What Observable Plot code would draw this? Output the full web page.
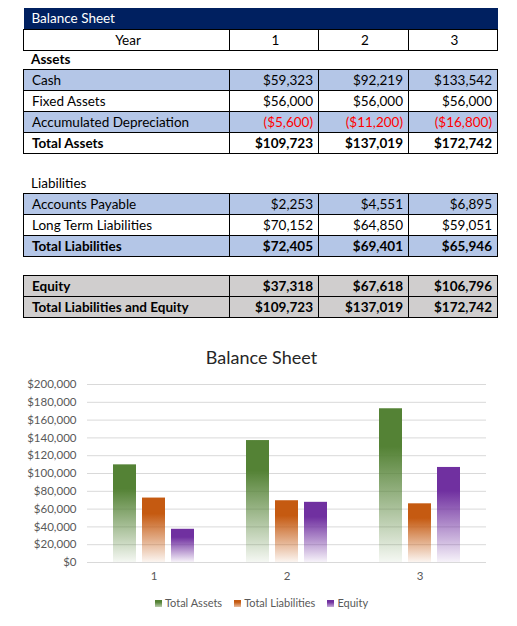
<!DOCTYPE html>
<html>
<head>
<meta charset="utf-8">
<script src="https://cdn.jsdelivr.net/npm/d3@7"></script>
<script src="https://cdn.jsdelivr.net/npm/@observablehq/plot@0.6"></script>
<style>
  body { margin: 0; width: 517px; height: 626px; position: relative; background: #fff; font-family: Lato, sans-serif; }
  table.sheet { position: absolute; left: 23px; width: 474px; border-collapse: collapse; table-layout: fixed; font-size: 13.5px; color: #000; }
  table.sheet td { border: 1px solid #000; padding: 0 5px 0 8px; white-space: nowrap; overflow: hidden; }
  table.sheet tr { height: 21px; }
  table.sheet td.num { text-align: right; }
  .label { position: absolute; left: 31px; font-size: 13.5px; }
  #chartTitle { position: absolute; top: 346px; left: 0; width: 523px; text-align: center; font-size: 18px; color: #262626; }
  #chart { position: absolute; top: 372px; left: 0; }
  #legend { position: absolute; top: 596px; left: 0; width: 523px; text-align: center; font-size: 11px; color: #595959; }
  #legend span.item { margin: 0 6px; }
  #legend i { display: inline-block; width: 7px; height: 7px; margin-right: 3px; }
</style>
</head>
<body>
<div id="sheet"></div>
<div class="label" style="top:51px;font-weight:bold">Assets</div>
<div class="label" style="top:175px">Liabilities</div>
<div id="chartTitle">Balance Sheet</div>
<div id="chart"></div>
<div id="legend"></div>
<script>
const years = ["1", "2", "3"];
const cash = [59323, 92219, 133542];
const fixedAssets = [56000, 56000, 56000];
const accumDepreciation = [-5600, -11200, -16800];
const totalAssets = [109723, 137019, 172742];
const accountsPayable = [2253, 4551, 6895];
const longTermLiabilities = [70152, 64850, 59051];
const totalLiabilities = [72405, 69401, 65946];
const equity = [37318, 67618, 106796];
const totalLiabEquity = [109723, 137019, 172742];

const series = ["Total Assets", "Total Liabilities", "Equity"];
const colors = ["#548235", "#C55A11", "#7030A0"];

const money = v => v < 0 ? "(" + d3.format("$,")(-v) + ")" : d3.format("$,")(v);

const blue = "#B4C6E7", grey = "#D0CECE";

function table(top, rows) {
  const t = d3.select("#sheet").append("table").attr("class", "sheet").style("top", top + "px");
  const cg = t.append("colgroup");
  [206, 89, 90, 89].forEach(w => cg.append("col").style("width", w + "px"));
  for (const r of rows) {
    const tr = t.append("tr").style("background", r.bg || "#fff").style("font-weight", r.bold ? "bold" : null);
    if (r.title) {
      tr.append("td").attr("colspan", 4).text(r.title)
        .style("border", "none").style("color", "#fff").style("background", "#002060");
      continue;
    }
    tr.append("td").text(r.label).style("text-align", r.center ? "center" : null);
    r.values.forEach(v => tr.append("td")
      .attr("class", r.center ? null : "num")
      .style("text-align", r.center ? "center" : null)
      .style("color", typeof v === "number" && v < 0 ? "#FF0000" : null)
      .text(typeof v === "number" ? money(v) : v));
  }
}

table(8, [
  {title: "Balance Sheet"},
  {label: "Year", values: years, center: true}
]);
table(69, [
  {label: "Cash", values: cash, bg: blue},
  {label: "Fixed Assets", values: fixedAssets},
  {label: "Accumulated Depreciation", values: accumDepreciation, bg: blue},
  {label: "Total Assets", values: totalAssets, bold: true}
]);
table(193, [
  {label: "Accounts Payable", values: accountsPayable, bg: blue},
  {label: "Long Term Liabilities", values: longTermLiabilities},
  {label: "Total Liabilities", values: totalLiabilities, bg: blue, bold: true}
]);
table(275, [
  {label: "Equity", values: equity, bg: grey, bold: true},
  {label: "Total Liabilities and Equity", values: totalLiabEquity, bg: grey, bold: true}
]);

// chart data
const chartValues = [totalAssets, totalLiabilities, equity];
const rows = years.flatMap((y, i) => series.map((s, j) => ({year: y, series: s, value: chartValues[j][i]})));

const chart = Plot.plot({
  width: 517,
  height: 218,
  marginTop: 12,
  marginBottom: 28,
  marginLeft: 86,
  marginRight: 30,
  style: {fontFamily: "Lato, sans-serif", fontSize: "11.5px", color: "#595959"},
  fx: {padding: 0, axis: "bottom", label: null, tickSize: 0, tickPadding: 9},
  x: {domain: series, axis: null, paddingInner: 0.22, paddingOuter: 0.876},
  y: {domain: [0, 200000], ticks: 10, tickFormat: d => d3.format("$,")(d), tickSize: 0, tickPadding: 11, label: null},
  color: {domain: series, range: series.map((s, i) => `url(#grad${i})`)},
  marks: [
    Plot.gridY(d3.range(0, 200001, 20000), {stroke: "#d9d9d9", strokeOpacity: 1}),
    Plot.barY(rows, {fx: "year", x: "series", y: "value", fill: "series"})
  ]
});

const defs = d3.select(chart).insert("defs", ":first-child");
colors.forEach((c, i) => {
  const g = defs.append("linearGradient").attr("id", "grad" + i)
    .attr("x1", 0).attr("y1", 0).attr("x2", 0).attr("y2", 1);
  g.append("stop").attr("offset", "0%").attr("stop-color", c);
  g.append("stop").attr("offset", "25%").attr("stop-color", c);
  g.append("stop").attr("offset", "100%").attr("stop-color", c).attr("stop-opacity", 0.06);
});
d3.select("#chart").append(() => chart);

const lg = d3.select("#legend");
series.forEach((s, i) => {
  const it = lg.append("span").attr("class", "item");
  it.append("i").style("background", `linear-gradient(${colors[i]}, ${colors[i]} 30%, ${colors[i]}66)`);
  it.append("span").text(s);
});
</script>
</body>
</html>
